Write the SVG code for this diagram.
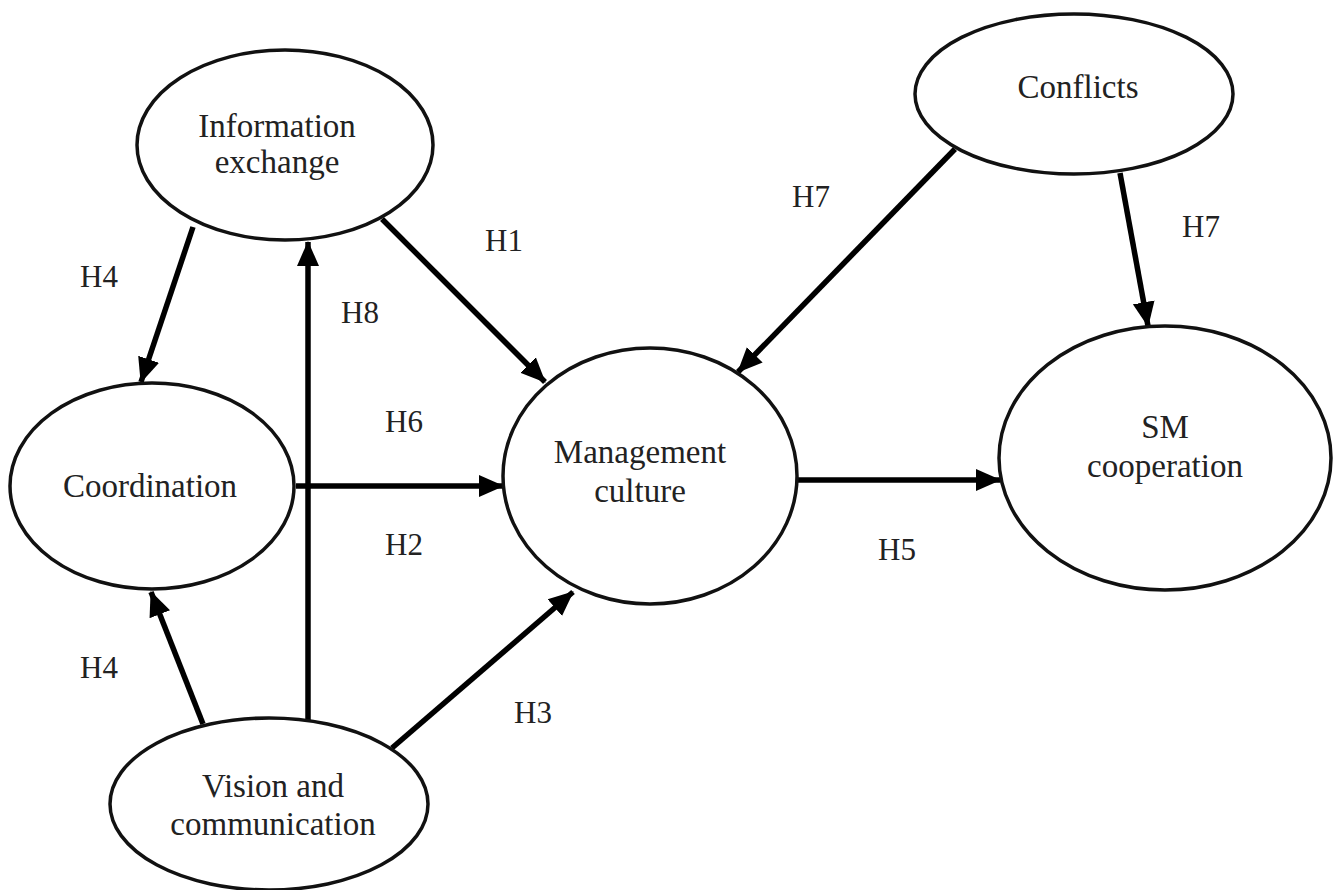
<svg xmlns="http://www.w3.org/2000/svg" width="1336" height="890" viewBox="0 0 1336 890">
<style>
.node{fill:#fff;stroke:#111;stroke-width:3.5}
.t{font-family:"Liberation Serif","Times New Roman","DejaVu Serif",serif;font-size:33px;fill:#222;text-anchor:middle}
.l{font-family:"Liberation Serif","Times New Roman","DejaVu Serif",serif;font-size:31px;fill:#222;text-anchor:middle}
.c{stroke:#000;stroke-width:5.5;fill:none;marker-end:url(#ah)}
</style>
<defs>
<marker id="ah" markerUnits="userSpaceOnUse" markerWidth="26" markerHeight="26" viewBox="0 0 26 26" refX="24" refY="13" orient="auto">
<path d="M0,2 L25,13 L0,24 Z" fill="#000"/>
</marker>
</defs>
<rect width="1336" height="890" fill="#fff"/>
<g id="connectors">
<line class="c" x1="193" y1="227" x2="141" y2="382"/>
<line class="c" x1="203" y1="724" x2="151" y2="592"/>
<line class="c" x1="308" y1="721" x2="308" y2="242"/>
<line class="c" x1="296" y1="486" x2="503" y2="486"/>
<line class="c" x1="382" y1="219" x2="545" y2="382"/>
<line class="c" x1="392" y1="748" x2="573" y2="592"/>
<line class="c" x1="955" y1="149" x2="738" y2="372"/>
<line class="c" x1="1120" y1="173" x2="1148" y2="326"/>
<line class="c" x1="798" y1="480" x2="1000" y2="480"/>
</g>
<g id="n-info"><ellipse class="node" cx="285" cy="145" rx="148" ry="95"/><text class="t" x="277" y="137">Information</text><text class="t" x="277" y="173">exchange</text></g>
<g id="n-coord"><ellipse class="node" cx="152" cy="486" rx="142" ry="103"/><text class="t" x="150" y="497">Coordination</text></g>
<g id="n-vision"><ellipse class="node" cx="269" cy="804" rx="159" ry="86"/><text class="t" x="273" y="797">Vision and</text><text class="t" x="273" y="835">communication</text></g>
<g id="n-mgmt"><ellipse class="node" cx="650" cy="476" rx="147" ry="128"/><text class="t" x="640" y="463">Management</text><text class="t" x="640" y="502">culture</text></g>
<g id="n-conf"><ellipse class="node" cx="1074" cy="94" rx="159" ry="80"/><text class="t" x="1078" y="98">Conflicts</text></g>
<g id="n-sm"><ellipse class="node" cx="1165" cy="458" rx="166" ry="132"/><text class="t" x="1165" y="438">SM</text><text class="t" x="1165" y="477">cooperation</text></g>
<g id="labels">
<text class="l" x="99" y="287">H4</text>
<text class="l" x="99" y="678">H4</text>
<text class="l" x="360" y="323">H8</text>
<text class="l" x="404" y="432">H6</text>
<text class="l" x="404" y="555">H2</text>
<text class="l" x="504" y="251">H1</text>
<text class="l" x="533" y="723">H3</text>
<text class="l" x="811" y="207">H7</text>
<text class="l" x="1201" y="237">H7</text>
<text class="l" x="897" y="560">H5</text>
</g>
</svg>
